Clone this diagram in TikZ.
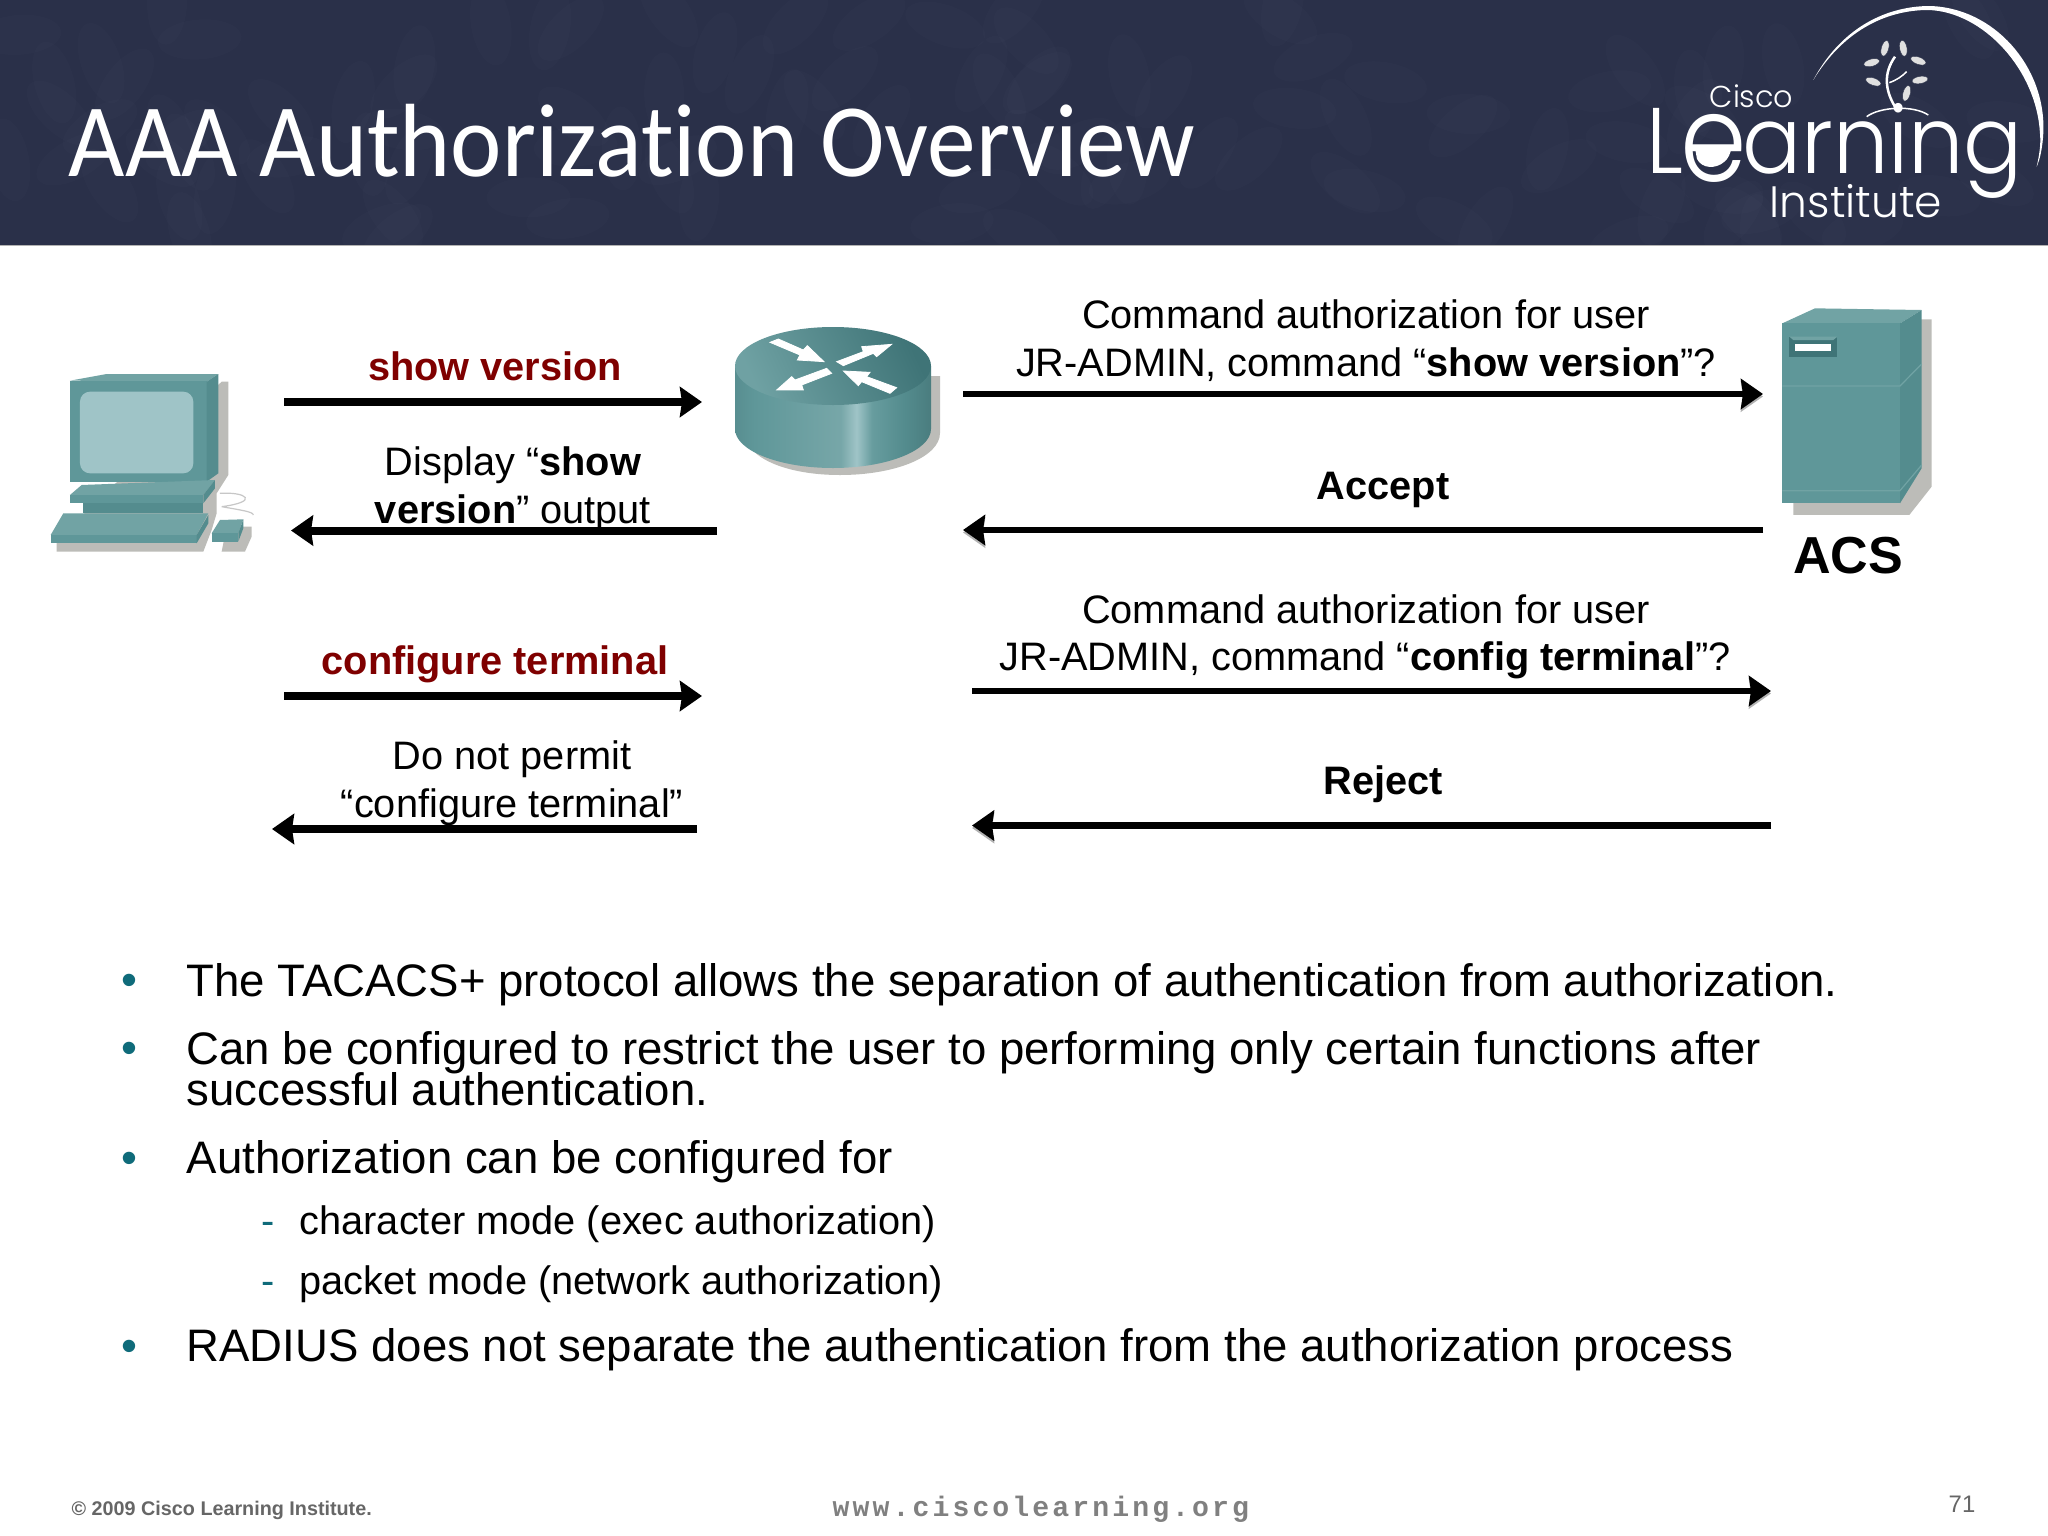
\documentclass[tikz,border=0pt]{standalone}
\usepackage{fontspec}
\usepackage{graphicx}
\setmainfont{Liberation Sans}
\newfontfamily\titlefont[Ligatures=CommonOff]{Carlito}
\newfontfamily\logofont{Poppins Light}
\newfontfamily\webfont[LetterSpace=11]{Liberation Mono}
\usetikzlibrary{arrows.meta,calc}
\definecolor{headblue}{HTML}{2A3049}
\definecolor{showred}{HTML}{7F0000}
\definecolor{bulletteal}{HTML}{0F6B7A}
\definecolor{tealfront}{HTML}{5F9799}
\definecolor{tealtop}{HTML}{71A3A4}
\definecolor{tealside}{HTML}{548C8E}
\definecolor{tealdark}{HTML}{3F7477}
\definecolor{tealscreen}{HTML}{9FC4C7}
\definecolor{dropgrey}{HTML}{BCBCB8}
\tikzset{
  flow/.style={line width=0.08cm,-{Stealth[length=0.22cm,width=0.3cm,inset=0.02cm]}},
  flowthin/.style={flow,line width=0.065cm,preaction={draw=black!30,transform canvas={yshift=-0.025cm}}},
  lab/.style={anchor=base,inner sep=0pt,font=\fontsize{11.3}{13}\selectfont},
  cmd/.style={lab,text=showred,font=\fontsize{11.3}{13}\selectfont\bfseries},
  ans/.style={lab,font=\fontsize{11.3}{13}\selectfont\bfseries},
  item/.style={anchor=base west,inner sep=0pt,font=\fontsize{12.95}{15}\selectfont},
  subitem/.style={anchor=base west,inner sep=0pt,font=\fontsize{11.3}{13}\selectfont},
  dot/.style={anchor=base,inner sep=0pt,text=bulletteal,font=\fontsize{12.95}{15}\selectfont},
  logotxt/.style={anchor=base west,inner sep=0pt,text=white},
  leaf/.style={fill=white!88!black,draw=headblue,line width=0.004cm},
  routerarrow/.style={fill=white,draw=white,line width=0.008cm}
}
\begin{document}
\begin{tikzpicture}[x=0.01cm,y=-0.01cm]
\useasboundingbox (0,0) rectangle (2048,1536);
\fill[white] (0,0) rectangle (2048,1536);
%HEADER
\fill[headblue] (0,0) rectangle (2048,245);
\pgfmathsetseed{71}
\begin{scope}
\clip (0,0) rectangle (2048,245);
\foreach \i in {1,...,110}{
  \pgfmathsetmacro{\px}{rnd*2048}
  \pgfmathsetmacro{\py}{rnd*245}
  \pgfmathsetmacro{\pr}{rnd*180}
  \fill[white,opacity=0.012,rotate around={\pr:(\px,\py)}] (\px,\py) ellipse (42 and 20);
}
\end{scope}
\draw[black!30,line width=0.015cm] (0,245.5) -- (2048,245.5);
\node[anchor=base west,inner sep=0pt,text=white,font=\fontsize{29.6}{32}\selectfont\titlefont] (title) at (68,176) {\scalebox{0.935}[1]{AAA Authorization Overview}};
%LOGO
\begin{scope}[shift={(1600,0)},scale=0.3333]
\fill[white] (640,240) .. controls (720,90) and (850,20) .. (985,18) .. controls (1180,20) and (1340,200) .. (1330,400) .. controls (1328,440) and (1320,480) .. (1310,500) .. controls (1322,450) and (1322,420) .. (1320,400) .. controls (1310,210) and (1150,35) .. (985,30) .. controls (850,30) and (725,100) .. (640,240) -- cycle;
\foreach \lx/\ly/\la in {855/145/75,910/145/100,815/188/15,955/182/-20,820/245/-20,960/240/10,920/280/75}
  \path[leaf] (\lx,\ly) ellipse[x radius=24,y radius=11,rotate=\la];
\draw[white,line width=0.025cm] (885,320) .. controls (855,270) and (850,220) .. (885,170);
\draw[white,line width=0.015cm] (868,248) .. controls (890,240) and (905,230) .. (920,215);
\draw[white,line width=0.015cm] (800,350) .. controls (840,320) and (940,315) .. (985,345);
\end{scope}
\node[logotxt,font=\fontsize{8.6}{10}\selectfont\logofont] (logocisco) at (1709,107) {Cisco};
\node[logotxt,font=\fontsize{26.5}{30}\selectfont\logofont] (logolearn) at (1646,173) {\scalebox{0.94}[1]{L\kern-0.04em\raisebox{-0.095em}{\scalebox{1.22}[1.3]{e}}\kern-0.05em arning}};
\node[logotxt,font=\fontsize{12.5}{15}\selectfont\logofont] (logoinst) at (1769,217) {Institute};
\fill[white] (1695,148) -- (1731,148) .. controls (1731,153) and (1728,159) .. (1724,162) .. controls (1716,169) and (1702,169) .. (1697,159) -- cycle;
%PC
\begin{scope}[shift={(40,360)},scale=0.3333]
\fill[dropgrey] (545,65) -- (565,65) -- (565,345) -- (530,400) -- (530,460) -- (515,510) -- (490,575) -- (50,575) -- (50,540) -- (300,300) -- cycle;
\fill[dropgrey] (545,575) -- (615,575) -- (635,530) -- (635,500) -- (560,500) -- cycle;
\draw[black!22,line width=0.012cm] (540,400) .. controls (620,395) and (660,425) .. (545,440) (545,440) .. controls (600,450) and (640,455) .. (640,465);
\fill[tealtop] (90,62) -- (200,42) -- (535,42) -- (500,65) -- cycle;
\fill[tealfront] (90,62) rectangle (500,365);
\fill[tealside] (500,65) -- (535,42) -- (535,340) -- (500,365) -- cycle;
\fill[tealscreen,rounded corners=0.1cm] (120,95) rectangle (460,340);
\fill[tealtop] (90,405) -- (125,375) -- (525,360) -- (490,405) -- cycle;
\fill[tealfront] (90,405) rectangle (490,430);
\fill[tealside] (130,430) rectangle (490,460);
\fill[tealside] (490,405) -- (525,360) -- (525,385) -- (490,430) -- cycle;
\fill[tealtop] (70,460) -- (505,460) -- (470,525) -- (32,525) -- cycle;
\fill[tealfront] (32,525) rectangle (470,550);
\fill[tealside] (470,525) -- (505,465) -- (505,490) -- (470,550) -- cycle;
\fill[tealtop] (540,480) -- (610,478) -- (595,520) -- (515,520) -- cycle;
\fill[tealfront] (515,520) rectangle (595,545);
\fill[tealside] (595,520) -- (610,478) -- (610,505) -- (595,545) -- cycle;
\end{scope}
%ROUTER
\begin{scope}
\fill[dropgrey] (745,376) -- (940,376) -- (940,433) .. controls (940,457) and (895,475) .. (840,475) .. controls (785,475) and (745,457) .. (745,433) -- cycle;
\pgfdeclarehorizontalshading{routerbody}{100bp}{
  color(0bp)=(tealdark!85!black); color(30bp)=(tealfront); color(52bp)=(tealfront!85!white);
  color(56bp)=(tealscreen); color(60bp)=(tealfront!95!white); color(68bp)=(tealside); color(100bp)=(tealdark!60!black)}
\shade[shading=routerbody] (735,366) -- (735,429) .. controls (735,450.5) and (779,468) .. (833,468) .. controls (887,468) and (931,450.5) .. (931,429) -- (931,366) -- cycle;
\shade[left color=tealfront!90!white,right color=tealdark,shading angle=115] (833,366) ellipse (98 and 39);
\end{scope}
\begin{scope}[shift={(720,315)},scale=0.3333]
\path[routerarrow] (150,82) -- (175,72) -- (250,105) -- (262,92) -- (312,140) -- (232,135) -- (240,120) -- cycle;
\path[routerarrow] (350,140) -- (430,110) -- (425,95) -- (515,88) -- (470,125) -- (460,115) -- (370,152) -- cycle;
\path[routerarrow] (170,225) -- (215,185) -- (225,195) -- (320,160) -- (335,175) -- (245,210) -- (250,225) -- cycle;
\path[routerarrow] (370,168) -- (450,172) -- (440,185) -- (530,218) -- (510,235) -- (425,200) -- (415,212) -- cycle;
\end{scope}
%ACS
\begin{scope}[shift={(1700,290)},scale=0.3333]
\fill[dropgrey] (660,88) -- (695,88) -- (695,590) -- (628,675) -- (280,675) -- (280,620) -- (600,300) -- cycle;
\fill[tealtop] (247,100) -- (345,55) -- (665,60) -- (600,100) -- cycle;
\fill[tealfront] (247,100) rectangle (600,640);
\fill[tealside] (600,100) -- (665,60) -- (665,535) -- (600,640) -- cycle;
\draw[tealtop,line width=0.012cm] (247,288) -- (600,288) -- (665,222) (247,602) -- (600,602) -- (665,525);
\fill[tealdark] (268,140) rectangle (412,202);
\fill[tealtop] (268,140) -- (412,140) -- (400,150) -- (280,150) -- cycle;
\fill[white] (285,161) rectangle (392,182);
\end{scope}
\node[anchor=base,inner sep=0pt,font=\fontsize{14.8}{16}\selectfont\bfseries] (acs) at (1848,573) {ACS};
%ARROWS
\coordinate (pcA) at (284,402);
\coordinate (rtA) at (702,402);
\coordinate (rtB) at (717,530.5);
\coordinate (pcB) at (291,530.5);
\coordinate (pcC) at (284,696);
\coordinate (rtC) at (702,696);
\coordinate (rtD) at (697,829);
\coordinate (pcD) at (272,829);
\coordinate (acsA) at (1763,394);
\coordinate (gwA) at (963,394);
\coordinate (acsB) at (1763,530);
\coordinate (gwB) at (963,530);
\coordinate (gwC) at (972,691);
\coordinate (acsC) at (1771,691);
\coordinate (acsD) at (1771,825.5);
\coordinate (gwD) at (972,825.5);
\draw[flow] (pcA) -- (rtA);
\draw[flow] (rtB) -- (pcB);
\draw[flow] (pcC) -- (rtC);
\draw[flow] (rtD) -- (pcD);
\draw[flowthin] (gwA) -- (acsA);
\draw[flowthin] (acsB) -- (gwB);
\draw[flowthin] (gwC) -- (acsC);
\draw[flowthin] (acsD) -- (gwD);
%LABELS
\node[cmd] (showcmd) at (495,380) {show version};
\node[lab] (dispA) at (513,475) {Display “\textbf{show}};
\node[lab] (dispB) at (513,523) {\textbf{version}” output};
\node[cmd] (confcmd) at (495,674) {configure terminal};
\node[lab] (denyA) at (512,769) {Do not permit};
\node[lab] (denyB) at (512,817) {“configure terminal”};
\node[lab] (askA) at (1366,328) {Command authorization for user};
\node[lab] (askB) at (1366,376) {JR-ADMIN, command “\textbf{show version}”?};
\node[ans] (accept) at (1383,499) {Accept};
\node[lab] (askC) at (1366,623) {Command authorization for user};
\node[lab] (askD) at (1365,670) {JR-ADMIN, command “\textbf{config terminal}”?};
\node[ans] (reject) at (1383,794) {Reject};
%BULLETS
\foreach \n/\yy in {a/995,b/1063,c/1173,d/1361}
  \node[dot] (dot\n) at (129,\yy) {•};
\foreach \n/\yy in {a/1234,b/1294}
  \node[subitem,text=bulletteal] (dash\n) at (261,\yy) {-};
\node[item] (ta) at (186,996) {The TACACS+ protocol allows the separation of authentication from authorization.};
\node[item] (tb) at (186,1064) {Can be configured to restrict the user to performing only certain functions after};
\node[item] (tbb) at (186,1105) {successful authentication.};
\node[item] (tc) at (186,1173) {Authorization can be configured for};
\node[subitem] (tca) at (299,1234) {character mode (exec authorization)};
\node[subitem] (tcb) at (299,1294) {packet mode (network authorization)};
\node[item] (td) at (186,1361) {RADIUS does not separate the authentication from the authorization process};
%FOOTER
\node[anchor=base west,inner sep=0pt,text=black!60,font=\fontsize{5.62}{6}\selectfont\bfseries] (copyr) at (71,1515) {© 2009 Cisco Learning Institute.};
\node[anchor=base west,inner sep=0pt,text=black!50,font=\fontsize{8}{9}\selectfont\bfseries\webfont] (web) at (832,1516) {www.ciscolearning.org};
\node[anchor=base east,inner sep=0pt,text=black!60,font=\fontsize{6.8}{8}\selectfont] (pageno) at (1976,1512) {71};
\end{tikzpicture}
\end{document}
